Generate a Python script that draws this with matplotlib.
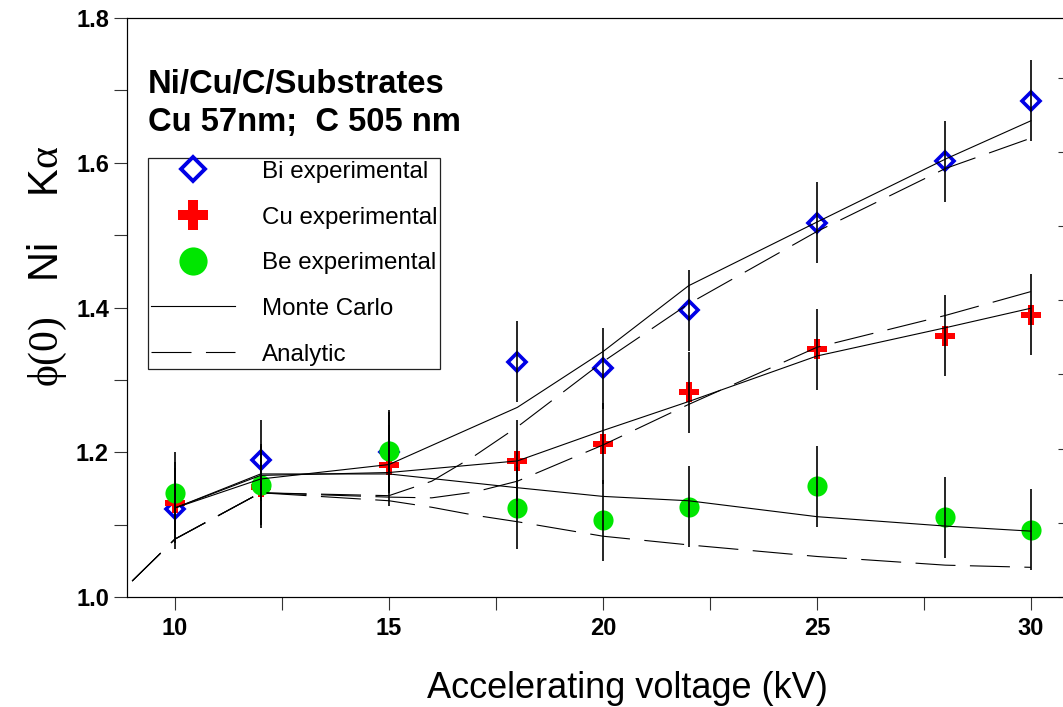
import numpy as np
import matplotlib
matplotlib.use("Agg")
import matplotlib.pyplot as plt
from matplotlib.lines import Line2D

# measured points (kV, phi(0))
kv = [10, 12, 15, 18, 20, 22, 25, 28, 30]
bi_exp = [1.122, 1.189, 1.200, 1.325, 1.316, 1.396, 1.517, 1.602, 1.686]
cu_exp = [1.130, 1.152, 1.182, 1.188, 1.212, 1.283, 1.342, 1.361, 1.390]
be_exp = [1.144, 1.155, 1.202, 1.123, 1.106, 1.125, 1.153, 1.110, 1.093]
err = 0.056

# Monte Carlo curves
mc_kv = [10, 12, 15, 18, 20, 22, 25, 28, 30]
bi_mc = [1.123, 1.163, 1.183, 1.262, 1.339, 1.430, 1.518, 1.605, 1.658]
cu_mc = [1.123, 1.168, 1.172, 1.188, 1.230, 1.270, 1.333, 1.372, 1.399]
be_mc = [1.123, 1.170, 1.170, 1.151, 1.139, 1.133, 1.111, 1.098, 1.091]

# analytic curves
an_kv = [9, 10, 12, 15, 16, 17, 18, 20, 22, 25, 28, 30]
bi_an = [1.022, 1.080, 1.144, 1.140, 1.160, 1.195, 1.235, 1.325, 1.405, 1.505, 1.592, 1.634]
cu_an = [1.022, 1.080, 1.144, 1.138, 1.137, 1.145, 1.160, 1.210, 1.266, 1.345, 1.389, 1.422]
be_an = [1.022, 1.080, 1.144, 1.133, 1.124, 1.113, 1.104, 1.084, 1.072, 1.056, 1.044, 1.041]

labels = ["Bi experimental", "Cu experimental", "Be experimental", "Monte Carlo", "Analytic"]

BLUE = "#0000e6"
RED = "#ff0000"
GREEN = "#00e600"
DASH = (36, 13)


def main():
    plt.rcParams["font.family"] = ["Liberation Sans", "DejaVu Sans"]
    plt.rcParams["mathtext.fontset"] = "custom"
    plt.rcParams["mathtext.rm"] = "Liberation Serif"
    plt.rcParams["mathtext.it"] = "Liberation Serif"

    W, H = 1063, 707
    fig = plt.figure(figsize=(W / 100, H / 100), dpi=100)
    ax = fig.add_axes([127 / W, 1 - 597 / H, (1066 - 127) / W, (597 - 18) / H])

    ax.plot(kv, bi_exp, ls="none", marker="D", ms=9, mfc="none", mec=BLUE, mew=2.6, zorder=3)
    ax.plot(kv, cu_exp, ls="none", marker="P", ms=15, mfc=RED, mec=RED, mew=0, zorder=3)
    ax.plot(kv, be_exp, ls="none", marker="o", ms=14.5, mfc=GREEN, mec=GREEN, mew=0, zorder=3)
    for ys in (bi_exp, cu_exp, be_exp):
        ax.errorbar(kv, ys, yerr=err, fmt="none", ecolor="black", elinewidth=1.2, capsize=0, zorder=5)

    for ys in (bi_mc, cu_mc, be_mc):
        ax.plot(mc_kv, ys, color="black", lw=0.8, zorder=4)
    for ys in (bi_an, cu_an, be_an):
        ax.plot(an_kv, ys, color="black", lw=0.8, dashes=DASH, zorder=4)

    ax.set_xlim(8.88, 30.82)
    ax.set_ylim(1.0, 1.8)
    ax.set_xticks([10, 15, 20, 25, 30])
    ax.set_xticks([12.5, 17.5, 22.5, 27.5], minor=True)
    ax.set_yticks([1.0, 1.2, 1.4, 1.6, 1.8])
    ax.set_yticks([1.1, 1.3, 1.5, 1.7], minor=True)
    ax.set_yticklabels(["1.0", "1.2", "1.4", "1.6", "1.8"])
    ax.tick_params(axis="both", which="both", direction="out", length=9.5, width=0.8,
                   color="#333333", labelsize=17)
    ax.tick_params(axis="y", pad=3.5)
    ax.tick_params(axis="x", pad=5)
    for lab in ax.get_xticklabels() + ax.get_yticklabels():
        lab.set_fontweight("bold")
    for sp in ax.spines.values():
        sp.set_linewidth(0.8)
        sp.set_color("#222222")

    # right-hand tick marks (separate scale, no labels)
    ax2 = ax.twinx()
    ax2.set_ylim(0, 579 / 74.2)
    ax2.set_yticks(range(8))
    ax2.tick_params(axis="y", direction="in", length=6, width=0.8, color="#333333", labelright=False)
    ax2.spines["right"].set_linewidth(0.8)

    fig.text(148 / W, 1 - 93 / H, "Ni/Cu/C/Substrates", fontsize=23.6, fontweight="bold",
             ha="left", va="baseline")
    fig.text(148 / W, 1 - 131 / H, "Cu 57nm;  C 505 nm", fontsize=23.6, fontweight="bold",
             ha="left", va="baseline")

    fig.text(627 / W, 1 - 688 / H, "Accelerating voltage (kV)", fontsize=26, ha="center", va="center")
    fig.text(47 / W, 1 - 266 / H, r"$\phi(0)$   Ni    K$\alpha$", fontsize=30, rotation=90,
             ha="center", va="center")

    handles = [
        Line2D([], [], ls="none", marker="D", ms=9, mfc="none", mec=BLUE, mew=2.8),
        Line2D([], [], ls="none", marker="P", ms=15, mfc=RED, mec=RED, mew=0),
        Line2D([], [], ls="none", marker="o", ms=14.5, mfc=GREEN, mec=GREEN, mew=0),
        Line2D([], [], color="black", lw=0.8),
        Line2D([], [], color="black", lw=0.8, dashes=DASH),
    ]
    leg = ax.legend(handles, labels, loc="upper left", bbox_to_anchor=(148 / W, 1 - 158 / H),
                    bbox_transform=fig.transFigure, fontsize=17.4, markerscale=1.4,
                    handlelength=3.5, handletextpad=1.1, labelspacing=0.98, borderpad=0.12,
                    borderaxespad=0, fancybox=False, framealpha=1, edgecolor="#222222")
    leg.get_frame().set_linewidth(0.9)
    leg.set_zorder(6)

    fig.savefig("out.png", dpi=100)


if __name__ == "__main__":
    main()
